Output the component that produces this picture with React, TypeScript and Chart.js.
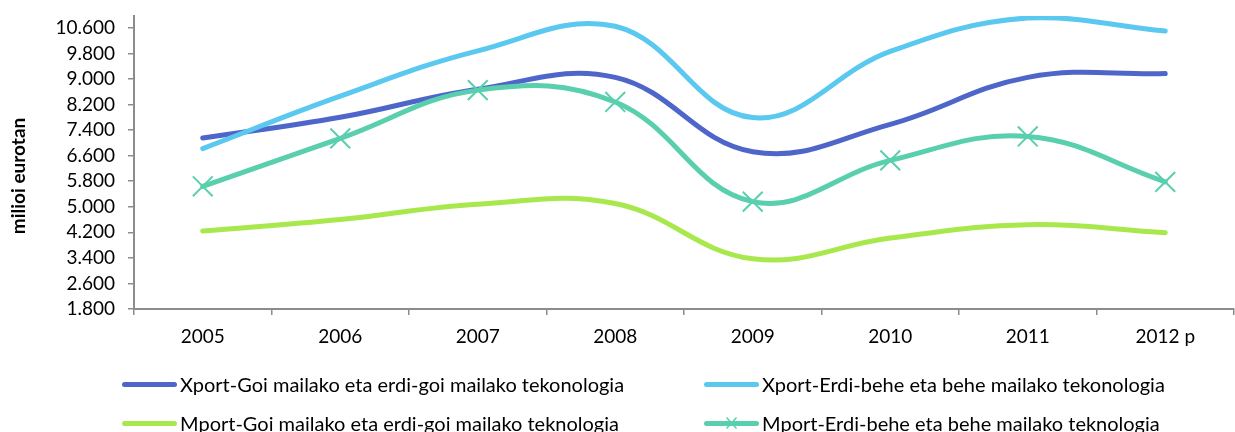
import React, { useEffect, useRef } from "react";
import { Chart, registerables } from "chart.js";

Chart.register(...registerables);

const categories = ["2005", "2006", "2007", "2008", "2009", "2010", "2011", "2012 p"];
const xportGoi = [7150, 7800, 8680, 9050, 6720, 7580, 9050, 9170];
const xportErdi = [6820, 8460, 9880, 10650, 7790, 9860, 10910, 10500];
const mportGoi = [4240, 4600, 5080, 5100, 3370, 4020, 4440, 4190];
const mportErdi = [5640, 7140, 8650, 8280, 5160, 6450, 7200, 5780];
const yTicks = [1800, 2600, 3400, 4200, 5000, 5800, 6600, 7400, 8200, 9000, 9800, 10600];
const seriesNames = [
  "Xport-Goi mailako eta erdi-goi mailako tekonologia",
  "Xport-Erdi-behe eta behe mailako tekonologia",
  "Mport-Goi mailako eta erdi-goi mailako teknologia",
  "Mport-Erdi-behe eta behe mailako teknologia",
];
const seriesColors = ["#4E66C9", "#5BC8F0", "#A8E84C", "#5ACFAE"];
const yTitle = "milioi eurotan";

const FONT = "Lato";
const fmt = (v: number) => String(v).replace(/\B(?=(\d{3})+(?!\d))/g, ".");

function LegendItem({ idx, x, y }: { idx: number; x: number; y: number }) {
  const color = seriesColors[idx];
  return (
    <div style={{ position: "absolute", left: x, top: y - 12, height: 24, display: "flex", alignItems: "center" }}>
      <div style={{ position: "relative", width: 55, height: 24 }}>
        <div style={{ position: "absolute", left: 0, top: 9.5, width: 55, height: 5, borderRadius: 3, background: color }} />
        {idx === 3 ? (
          <svg width={55} height={24} style={{ position: "absolute", left: 0, top: 0 }}>
            <line x1={22.5} y1={6.5} x2={32.5} y2={17.5} stroke={color} strokeWidth={1.5} />
            <line x1={32.5} y1={6.5} x2={22.5} y2={17.5} stroke={color} strokeWidth={1.5} />
          </svg>
        ) : null}
      </div>
      <span style={{ marginLeft: 3, fontFamily: FONT, fontSize: 20, lineHeight: "24px", color: "#000", whiteSpace: "nowrap" }}>
        {seriesNames[idx]}
      </span>
    </div>
  );
}

const yTitlePlugin = {
  id: "yTitlePlugin",
  afterDraw(chart: any) {
    const ctx = chart.ctx;
    ctx.save();
    ctx.translate(18.5, 176);
    ctx.rotate(-Math.PI / 2);
    ctx.font = `bold 19px ${FONT}`;
    ctx.fillStyle = "#000";
    ctx.textAlign = "center";
    ctx.textBaseline = "middle";
    ctx.fillText(yTitle, 0, 0);
    ctx.restore();
  },
};

export default function App() {
  const canvasRef = useRef<HTMLCanvasElement | null>(null);

  useEffect(() => {
    document.body.style.margin = "0";
    const canvas = canvasRef.current;
    if (!canvas) return;
    const axisColor = "#8C8C8C";
    const chart = new Chart(canvas, {
      type: "line",
      data: {
        labels: categories,
        datasets: [
          { label: seriesNames[0], data: xportGoi, borderColor: seriesColors[0], order: 4, pointRadius: 0 },
          { label: seriesNames[1], data: xportErdi, borderColor: seriesColors[1], order: 3, pointRadius: 0 },
          { label: seriesNames[2], data: mportGoi, borderColor: seriesColors[2], order: 2, pointRadius: 0 },
          {
            label: seriesNames[3],
            data: mportErdi,
            borderColor: seriesColors[3],
            order: 1,
            pointStyle: "crossRot",
            pointRadius: 14,
            pointBorderWidth: 2,
            pointBorderColor: seriesColors[3],
            pointBackgroundColor: seriesColors[3],
          },
        ].map((d) => ({
          ...d,
          borderWidth: 5,
          tension: 0.4,
          fill: false,
          borderCapStyle: "round" as const,
          borderJoinStyle: "round" as const,
        })),
      },
      options: {
        animation: false,
        responsive: false,
        devicePixelRatio: 1,
        layout: { padding: { top: 12, right: 8.6, bottom: 78, left: 0 } },
        plugins: { legend: { display: false }, tooltip: { enabled: false } },
        scales: {
          x: {
            offset: true,
            grid: { offset: true, drawOnChartArea: false, drawTicks: true, tickLength: 6, color: axisColor, lineWidth: 1.5 },
            border: { color: axisColor, width: 2 },
            ticks: { font: { family: FONT, size: 19 }, color: "#000", padding: 10, maxRotation: 0, autoSkip: false },
            afterFit: (s: any) => {
              s.height = 45;
              s.paddingLeft = 0;
              s.paddingRight = 0;
            },
          },
          y: {
            min: 1800,
            max: 10970,
            afterBuildTicks: (s: any) => {
              s.ticks = yTicks.map((v) => ({ value: v }));
            },
            grid: { drawOnChartArea: false, drawTicks: true, tickLength: 6, color: axisColor, lineWidth: 1.5 },
            border: { color: axisColor, width: 2 },
            ticks: {
              font: { family: FONT, size: 19 },
              color: "#000",
              padding: 13,
              callback: (v: any) => fmt(Number(v)),
            },
            afterFit: (s: any) => {
              s.width = 134;
              s.paddingTop = 0;
              s.paddingBottom = 0;
            },
          },
        },
      },
      plugins: [yTitlePlugin],
    });
    return () => chart.destroy();
  }, []);

  return (
    <div style={{ position: "relative", width: 1235, height: 432, overflow: "hidden", background: "#fff" }}>
      <canvas ref={canvasRef} width={1250} height={432} style={{ display: "block", width: 1250, height: 432 }} />
      <LegendItem idx={0} x={122} y={384} />
      <LegendItem idx={1} x={704} y={384} />
      <LegendItem idx={2} x={122} y={423} />
      <LegendItem idx={3} x={704} y={423} />
    </div>
  );
}
